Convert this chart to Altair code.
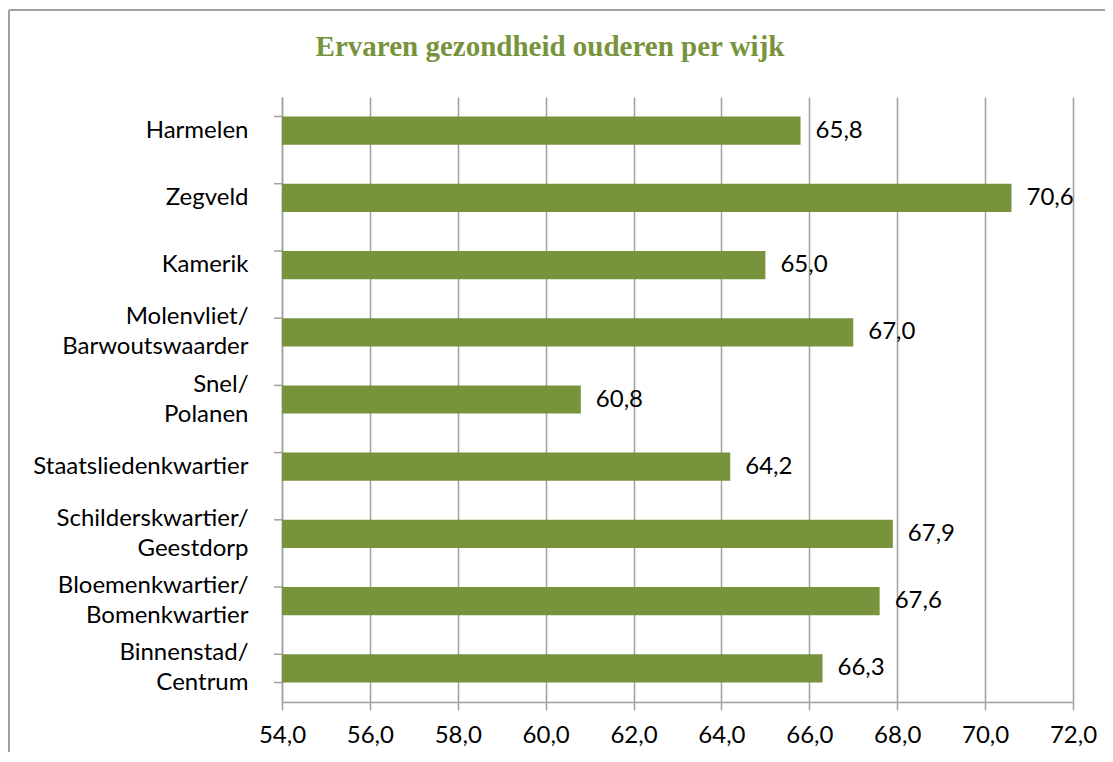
import altair as alt
import pandas as pd

categories = [
    "Harmelen",
    "Zegveld",
    "Kamerik",
    "Molenvliet/|Barwoutswaarder",
    "Snel/|Polanen",
    "Staatsliedenkwartier",
    "Schilderskwartier/|Geestdorp",
    "Bloemenkwartier/|Bomenkwartier",
    "Binnenstad/|Centrum",
]
values = [65.8, 70.6, 65.0, 67.0, 60.8, 64.2, 67.9, 67.6, 66.3]
x_ticks = [54, 56, 58, 60, 62, 64, 66, 68, 70, 72]
title_text = "Ervaren gezondheid ouderen per wijk"

df = pd.DataFrame({
    "cat": categories,
    "val": values,
    "lbl": [f"{v:.1f}".replace(".", ",") for v in values],
})

GREEN = "#77933C"
GRAY = "#a0a0a0"
FONT = "Lato"
FS = 24

yscale = alt.Scale(domain=categories, paddingInner=0.58, paddingOuter=0.29)
xscale = alt.Scale(domain=[54, 72], nice=False, zero=False)

y_enc = alt.Y(
    "cat:N", sort=categories, scale=yscale, title=None,
    axis=alt.Axis(
        labelExpr="split(datum.value, '|')", ticks=False, tickSize=0,
        labelPadding=34, labelFontSize=FS, labelFont=FONT, labelColor="#000",
        labelLineHeight=30, labelAlign="right", labelBaseline="middle",
        labelOffset={"condition": {"test": "indexof(datum.value, '|') >= 0", "value": -15}, "value": 0},
        domain=True, domainColor=GRAY, domainWidth=1.5, grid=False,
        labelLimit=400,
    ),
)
x_enc = alt.X(
    "val:Q", scale=xscale, title=None,
    axis=alt.Axis(
        values=x_ticks, labelExpr="replace(format(datum.value, '.1f'), '.', ',')",
        labelFontSize=FS, labelFont=FONT, labelColor="#000", labelPadding=13,
        labelFlush=False, labelOverlap=False,
        tickSize=8, tickColor=GRAY, tickWidth=1.5, grid=True, gridColor=GRAY,
        gridWidth=1.5, domainColor=GRAY, domainWidth=1.5,
    ),
)

base = alt.Chart(df)

bars = base.mark_bar(color=GREEN).encode(y=y_enc, x=x_enc, x2=alt.datum(54))

labels = base.mark_text(
    align="left", baseline="middle", dx=15, fontSize=FS, font=FONT, color="#000"
).encode(y=alt.Y("cat:N", sort=categories), x="val:Q", text="lbl:N")

cat_ticks = base.mark_rule(color=GRAY, strokeWidth=1.5).encode(
    y=alt.Y("cat:N", sort=categories, bandPosition=0),
    x=alt.value(-8), x2=alt.value(0),
)
last_tick = base.transform_filter(
    alt.datum.cat == categories[-1]
).mark_rule(color=GRAY, strokeWidth=1.5).encode(
    y=alt.Y("cat:N", sort=categories, bandPosition=1),
    x=alt.value(-8), x2=alt.value(0),
)

one = base.transform_filter(alt.datum.cat == categories[0])

border_top = one.mark_rule(color=GRAY, strokeWidth=2).encode(
    x=alt.value(-273), x2=alt.value(840), y=alt.value(-87)
)
border_left = one.mark_rule(color=GRAY, strokeWidth=2).encode(
    x=alt.value(-273), y=alt.value(-87), y2=alt.value(700)
)
title = one.mark_text(
    text=title_text, font="Liberation Serif", fontWeight="bold", fontSize=29,
    color=GREEN, align="center", baseline="alphabetic",
).encode(x=alt.value(268), y=alt.value(-41))

chart = alt.layer(
    bars, labels, cat_ticks, last_tick, border_top, border_left, title
).properties(
    width=791, height=605,
    autosize=alt.AutoSizeParams(type="none"),
    padding={"left": 274, "top": 89, "right": 32, "bottom": 50},
).configure_view(stroke=None)

chart.save("out.html", embed_options={"renderer": "svg", "actions": False})
